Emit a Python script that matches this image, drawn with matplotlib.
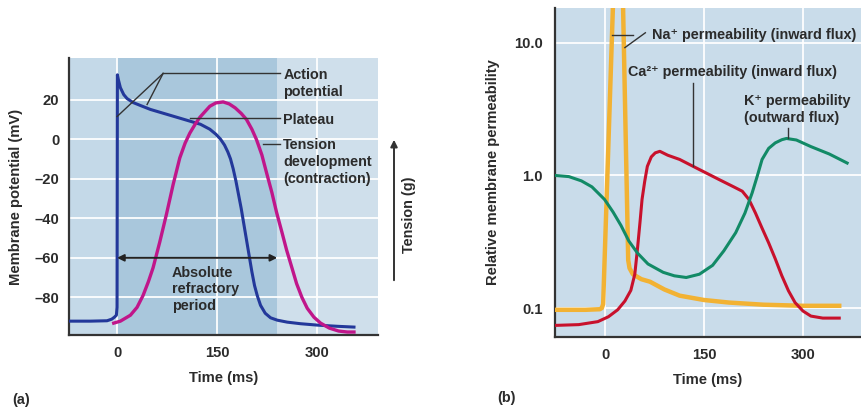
import matplotlib
matplotlib.use("Agg")
import matplotlib.pyplot as plt
from matplotlib.ticker import FixedLocator, FixedFormatter

plt.rcParams['font.family'] = ['Liberation Sans', 'DejaVu Sans']

# ---------------- data: panel (a) ----------------
ap_time = [-72, -40, -15, -8, -4, -1, 0, 0.5, 2, 5, 10, 15, 24, 35, 50, 70, 90, 110, 125,
           139, 148, 155, 161, 166, 170, 174, 178, 182, 186, 190, 194, 198, 202, 206, 210,
           215, 222, 230, 240, 255, 275, 300, 330, 355]
ap_mv = [-92, -92, -91.8, -91, -90, -89, -85, 32.5, 30, 26, 22.5, 20.5, 18.5, 17, 15, 13,
         11, 9, 7.5, 5, 2.5, 0, -3, -6.5, -10, -15, -21, -28, -35, -43, -51, -59, -67, -74,
         -79, -84, -88, -90.3, -91.5, -92.5, -93.3, -94, -94.6, -95]

tension_time = [-5, 5, 20, 30, 39, 47, 54, 64, 74, 84, 94, 102, 109, 117, 124, 132, 139,
                148, 159, 168, 177, 186, 194, 202, 209, 217, 224, 232, 239, 247, 254, 262,
                269, 277, 285, 295, 305, 318, 332, 345, 355]
tension_val = [-93, -92, -89, -85, -79, -72, -65, -52, -38, -23, -9.5, -2, 3, 7.5, 11, 14,
               16.6, 18.3, 18.8, 17.8, 15.8, 13, 9.9, 5, -0.3, -8, -17, -27, -37, -47, -56,
               -65, -73, -80, -85.5, -90, -93, -95.5, -97, -97.5, -97.5]

a_xticks = [0, 150, 300]
a_yticks = [20, 0, -20, -40, -60, -80]
a_yticklabels = ['20', '0', '–20', '–40', '–60', '–80']
refractory = (0, 240)

# ---------------- data: panel (b) ----------------
na_time = [-76, -30, -8, -5, -3, 16, 23, 35, 37, 42, 55, 68, 90, 113, 150, 188, 240,
           300, 355]
na_perm = [0.097, 0.097, 0.098, 0.1, 0.107, 80, 200, 0.23, 0.2, 0.18, 0.165, 0.158,
           0.138, 0.124, 0.115, 0.11, 0.106, 0.104, 0.104]

ca_time = [-76, -40, -11, 5, 19, 30, 39, 45, 49, 53, 56, 60, 64, 70, 76, 83, 95, 113, 138,
           173, 195, 208, 218, 228, 238, 248, 258, 268, 278, 288, 300, 312, 330, 355]
ca_perm = [0.074, 0.075, 0.079, 0.086, 0.097, 0.113, 0.136, 0.18, 0.278, 0.45, 0.66, 0.9,
           1.17, 1.38, 1.48, 1.52, 1.42, 1.32, 1.14, 0.93, 0.82, 0.76, 0.66, 0.52, 0.4,
           0.31, 0.235, 0.175, 0.135, 0.11, 0.095, 0.087, 0.084, 0.084]

k_time = [-76, -55, -36, -20, -1, 12, 24, 36, 49, 65, 88, 105, 123, 143, 163, 180, 198,
          212, 223, 231, 238, 248, 258, 268, 275, 290, 312, 340, 367]
k_perm = [1.0, 0.98, 0.91, 0.82, 0.66, 0.53, 0.42, 0.32, 0.26, 0.215, 0.186, 0.175, 0.17,
          0.18, 0.21, 0.27, 0.37, 0.52, 0.74, 1.0, 1.32, 1.6, 1.76, 1.86, 1.9, 1.85, 1.65,
          1.45, 1.24]

b_xticks = [0, 150, 300]
b_yticks = [10.0, 1.0, 0.1]
b_yticklabels = ['10.0', '1.0', '0.1']

# ---------------- styling ----------------
W, H = 861, 412
fig = plt.figure(figsize=(W / 100, H / 100), dpi=100)
TXT = '#2b2b2b'
FS = 10.4
FS_TICK = 10.6
FS_LAB = 10.6
WEIGHT = 'bold'
LS = 1.25

def fx(px):
    return px / W

def fy(py):
    return 1 - py / H

def style_axes(ax):
    for s in ['top', 'right']:
        ax.spines[s].set_visible(False)
    for s in ['left', 'bottom']:
        ax.spines[s].set_color('#333333')
        ax.spines[s].set_linewidth(1.6)
    ax.tick_params(which='both', length=0, labelsize=FS_TICK, colors=TXT)
    for lab in ax.get_xticklabels() + ax.get_yticklabels():
        lab.set_fontweight(WEIGHT)
    ax.grid(True, color='white', lw=1.4, alpha=0.9)
    ax.set_axisbelow(True)

# ---------------- panel (a) ----------------
axa = fig.add_axes([fx(69), fy(335), fx(378) - fx(69), fy(58) - fy(335)])
axa.set_xlim(-72, 391)
axa.set_ylim(-99, 41)
axa.set_facecolor('#cfdfeb')
axa.axvspan(-72, refractory[0], color='#c4d9e8', lw=0, zorder=0)
axa.axvspan(refractory[0], refractory[1], color='#a9c7dc', lw=0, zorder=0)
axa.xaxis.set_major_locator(FixedLocator(a_xticks))
axa.yaxis.set_major_locator(FixedLocator(a_yticks))
axa.yaxis.set_major_formatter(FixedFormatter(a_yticklabels))
axa.tick_params(axis='x', pad=8)
axa.tick_params(axis='y', pad=7)
style_axes(axa)

axa.plot(ap_time, ap_mv, color='#23389a', lw=2.2, zorder=3, solid_joinstyle='round')
axa.plot(tension_time, tension_val, color='#c0168a', lw=2.4, zorder=3,
         solid_joinstyle='round')

lk = dict(color='#333333', lw=1.0, zorder=4, clip_on=False)
# Action potential leaders
axa.plot([69, 244], [33.2, 33.2], **lk)
axa.plot([69, 0], [33.2, 11.4], **lk)
axa.plot([69, 45], [33.2, 17.5], **lk)
# Plateau leader
axa.plot([109, 244], [10.9, 10.9], **lk)
# Tension leader
axa.plot([219, 244], [-2.3, -2.3], **lk)

tk = dict(fontsize=FS, fontweight=WEIGHT, color=TXT, ha='left', va='top',
          linespacing=LS, zorder=5)
axa.text(249, 35.8, 'Action\npotential', **tk)
axa.text(249, 13.0, 'Plateau', **tk)
axa.text(249, 0.35, 'Tension\ndevelopment\n(contraction)', **tk)
axa.text(82, -63.9, 'Absolute\nrefractory\nperiod', **tk)

axa.annotate('', xy=(refractory[0], -60), xytext=(refractory[1], -60),
             arrowprops=dict(arrowstyle='<|-|>', color='#222222', lw=1.4,
                             mutation_scale=10, shrinkA=0, shrinkB=0), zorder=5)

axa.set_xlabel('Time (ms)', fontsize=FS_LAB, fontweight=WEIGHT, color=TXT, labelpad=8)
axa.set_ylabel('Membrane potential (mV)', fontsize=FS_LAB, fontweight=WEIGHT, color=TXT,
               labelpad=8)

# Tension arrow (figure coordinates)
fig.add_artist(matplotlib.patches.FancyArrowPatch(
    (fx(394), fy(283)), (fx(394), fy(137)), transform=fig.transFigure,
    arrowstyle='-|>', mutation_scale=10, color='#333333', lw=1.4))
fig.text(fx(409), fy(215), 'Tension (g)', rotation=90, ha='center', va='center',
         fontsize=FS, fontweight=WEIGHT, color=TXT)
fig.text(fx(12), fy(400), '(a)', fontsize=FS, fontweight=WEIGHT, color=TXT,
         ha='left', va='center')

# ---------------- panel (b) ----------------
axb = fig.add_axes([fx(555), fy(337), fx(861) - fx(555), fy(8) - fy(337)])
axb.set_yscale('log')
axb.set_xlim(-76, 388)
axb.set_ylim(0.0605, 18.3)
axb.set_facecolor('#c9dcea')
axb.xaxis.set_major_locator(FixedLocator(b_xticks))
axb.yaxis.set_major_locator(FixedLocator(b_yticks))
axb.yaxis.set_major_formatter(FixedFormatter(b_yticklabels))
axb.yaxis.set_minor_locator(FixedLocator([]))
axb.tick_params(axis='x', pad=8)
axb.tick_params(axis='y', pad=9)
style_axes(axb)

axb.plot(na_time, na_perm, color='#f2b233', lw=3.2, zorder=3, solid_joinstyle='round')
axb.plot(ca_time, ca_perm, color='#c8112c', lw=2.2, zorder=3, solid_joinstyle='round')
axb.plot(k_time, k_perm, color='#128a66', lw=2.2, zorder=3, solid_joinstyle='round')

# leaders
axb.plot([11, 42], [11.5, 11.5], **lk)
axb.plot([61, 30], [11.9, 9.2], **lk)
axb.plot([133, 133], [5.0, 1.17], **lk)
axb.plot([277, 277], [2.29, 1.93], **lk)

tkb = dict(fontsize=FS, fontweight=WEIGHT, color=TXT, va='center', linespacing=LS,
           zorder=5)
axb.text(71, 11.5, 'Na⁺ permeability (inward flux)', ha='left', clip_on=False, **tkb)
axb.text(35, 6.0, 'Ca²⁺ permeability (inward flux)', ha='left', **tkb)
axb.text(291, 3.13, 'K⁺ permeability\n(outward flux)', ha='center',
         multialignment='left', **tkb)

axb.set_xlabel('Time (ms)', fontsize=FS_LAB, fontweight=WEIGHT, color=TXT, labelpad=8)
axb.set_ylabel('Relative membrane permeability', fontsize=FS_LAB, fontweight=WEIGHT,
               color=TXT, labelpad=10)
fig.text(fx(497), fy(398), '(b)', fontsize=FS, fontweight=WEIGHT, color=TXT,
         ha='left', va='center')

fig.savefig('out.png', dpi=100, facecolor='white')
